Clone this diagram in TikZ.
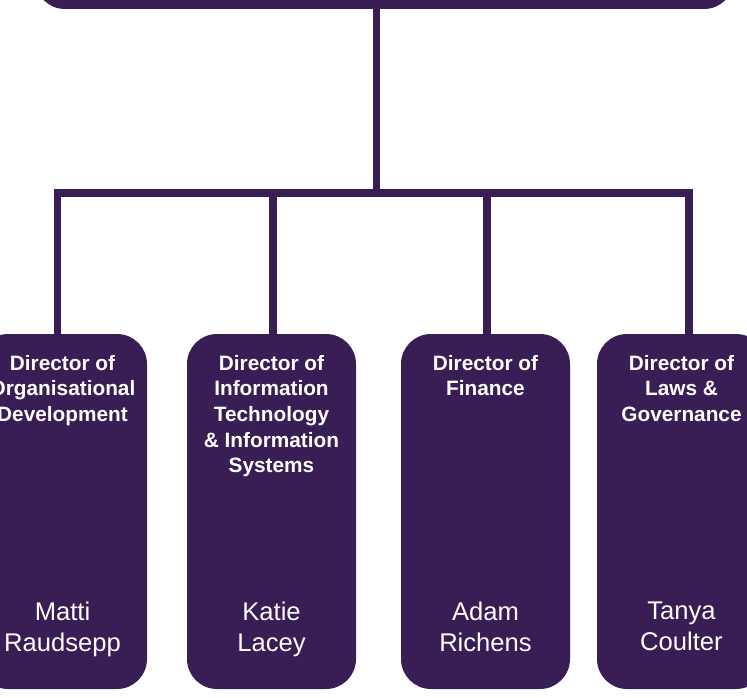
\documentclass[tikz,border=0pt]{standalone}
\usepackage[usenames,dvipsnames]{xcolor}
\usepackage{fontspec}
\setmainfont{Liberation Sans}
\usepackage{tikz}
\usetikzlibrary{positioning}
\definecolor{orgpurple}{HTML}{381E54}

\begin{document}
\begin{tikzpicture}[x=1pt,y=-1pt,
   post/.style={fill=orgpurple,rounded corners=30pt,minimum width=169pt,minimum height=355pt,inner sep=0pt},
   role/.style={anchor=north,align=center,text=white,inner sep=0pt,font=\fontsize{20.8}{25.7}\selectfont\bfseries},
   holder/.style={anchor=north,align=center,text=white,inner sep=0pt,font=\fontsize{25.6}{31}\selectfont},
   link/.style={draw=orgpurple,line width=7.5pt}]
   \useasboundingbox (0,0) rectangle (747,698);
   \clip (0,0) rectangle (747,698);

   \draw (384.5,-41) node[post,minimum width=699pt,minimum height=100pt] (board) {};
  \draw (62.5,511.5) node[post] (od) {};
  \draw (271.5,511.5) node[post] (it) {};
      \draw (485.5,511.5) node[post] (fin) {};
  \draw (681.5,511.5) node[post] (law) {};

  \node[role,below=21pt of od.north] (odrole) {Director of\\Organisational\\Development};
  \node[role,below=21pt of it.north] (itrole) {Director of\\Information\\Technology\\\& Information\\Systems};
  \node[role,below=21pt of fin.north] (finrole) {Director of\\Finance};
  \node[role,below=21pt of law.north] (lawrole) {Director of\\Laws \&\\Governance};

  \node[holder,below=268pt of od.north] (odname) {Matti\\Raudsepp};
  \node[holder,below=268pt of it.north] (itname) {Katie\\Lacey};
  \node[holder,below=268pt of fin.north] (finname) {Adam\\Richens};
  \node[holder,below=268pt of law.north] (lawname) {Tanya\\Coulter};

  \coordinate (hub) at (376.5,193);
  \coordinate (b1) at (57.5,193);
  \coordinate (b2) at (273,193);
  \coordinate (b3) at (487,193);
  \coordinate (b4) at (689,193);

    \draw[link] (board.south -| hub) -- (hub);
    \draw[link] (od.north -| b1) -- (b1) -- (b4) -- (law.north -| b4);
    \draw[link] (b2) -- (it.north -| b2);
    \draw[link] (b3) -- (fin.north -| b3);
\end{tikzpicture}
\end{document}
